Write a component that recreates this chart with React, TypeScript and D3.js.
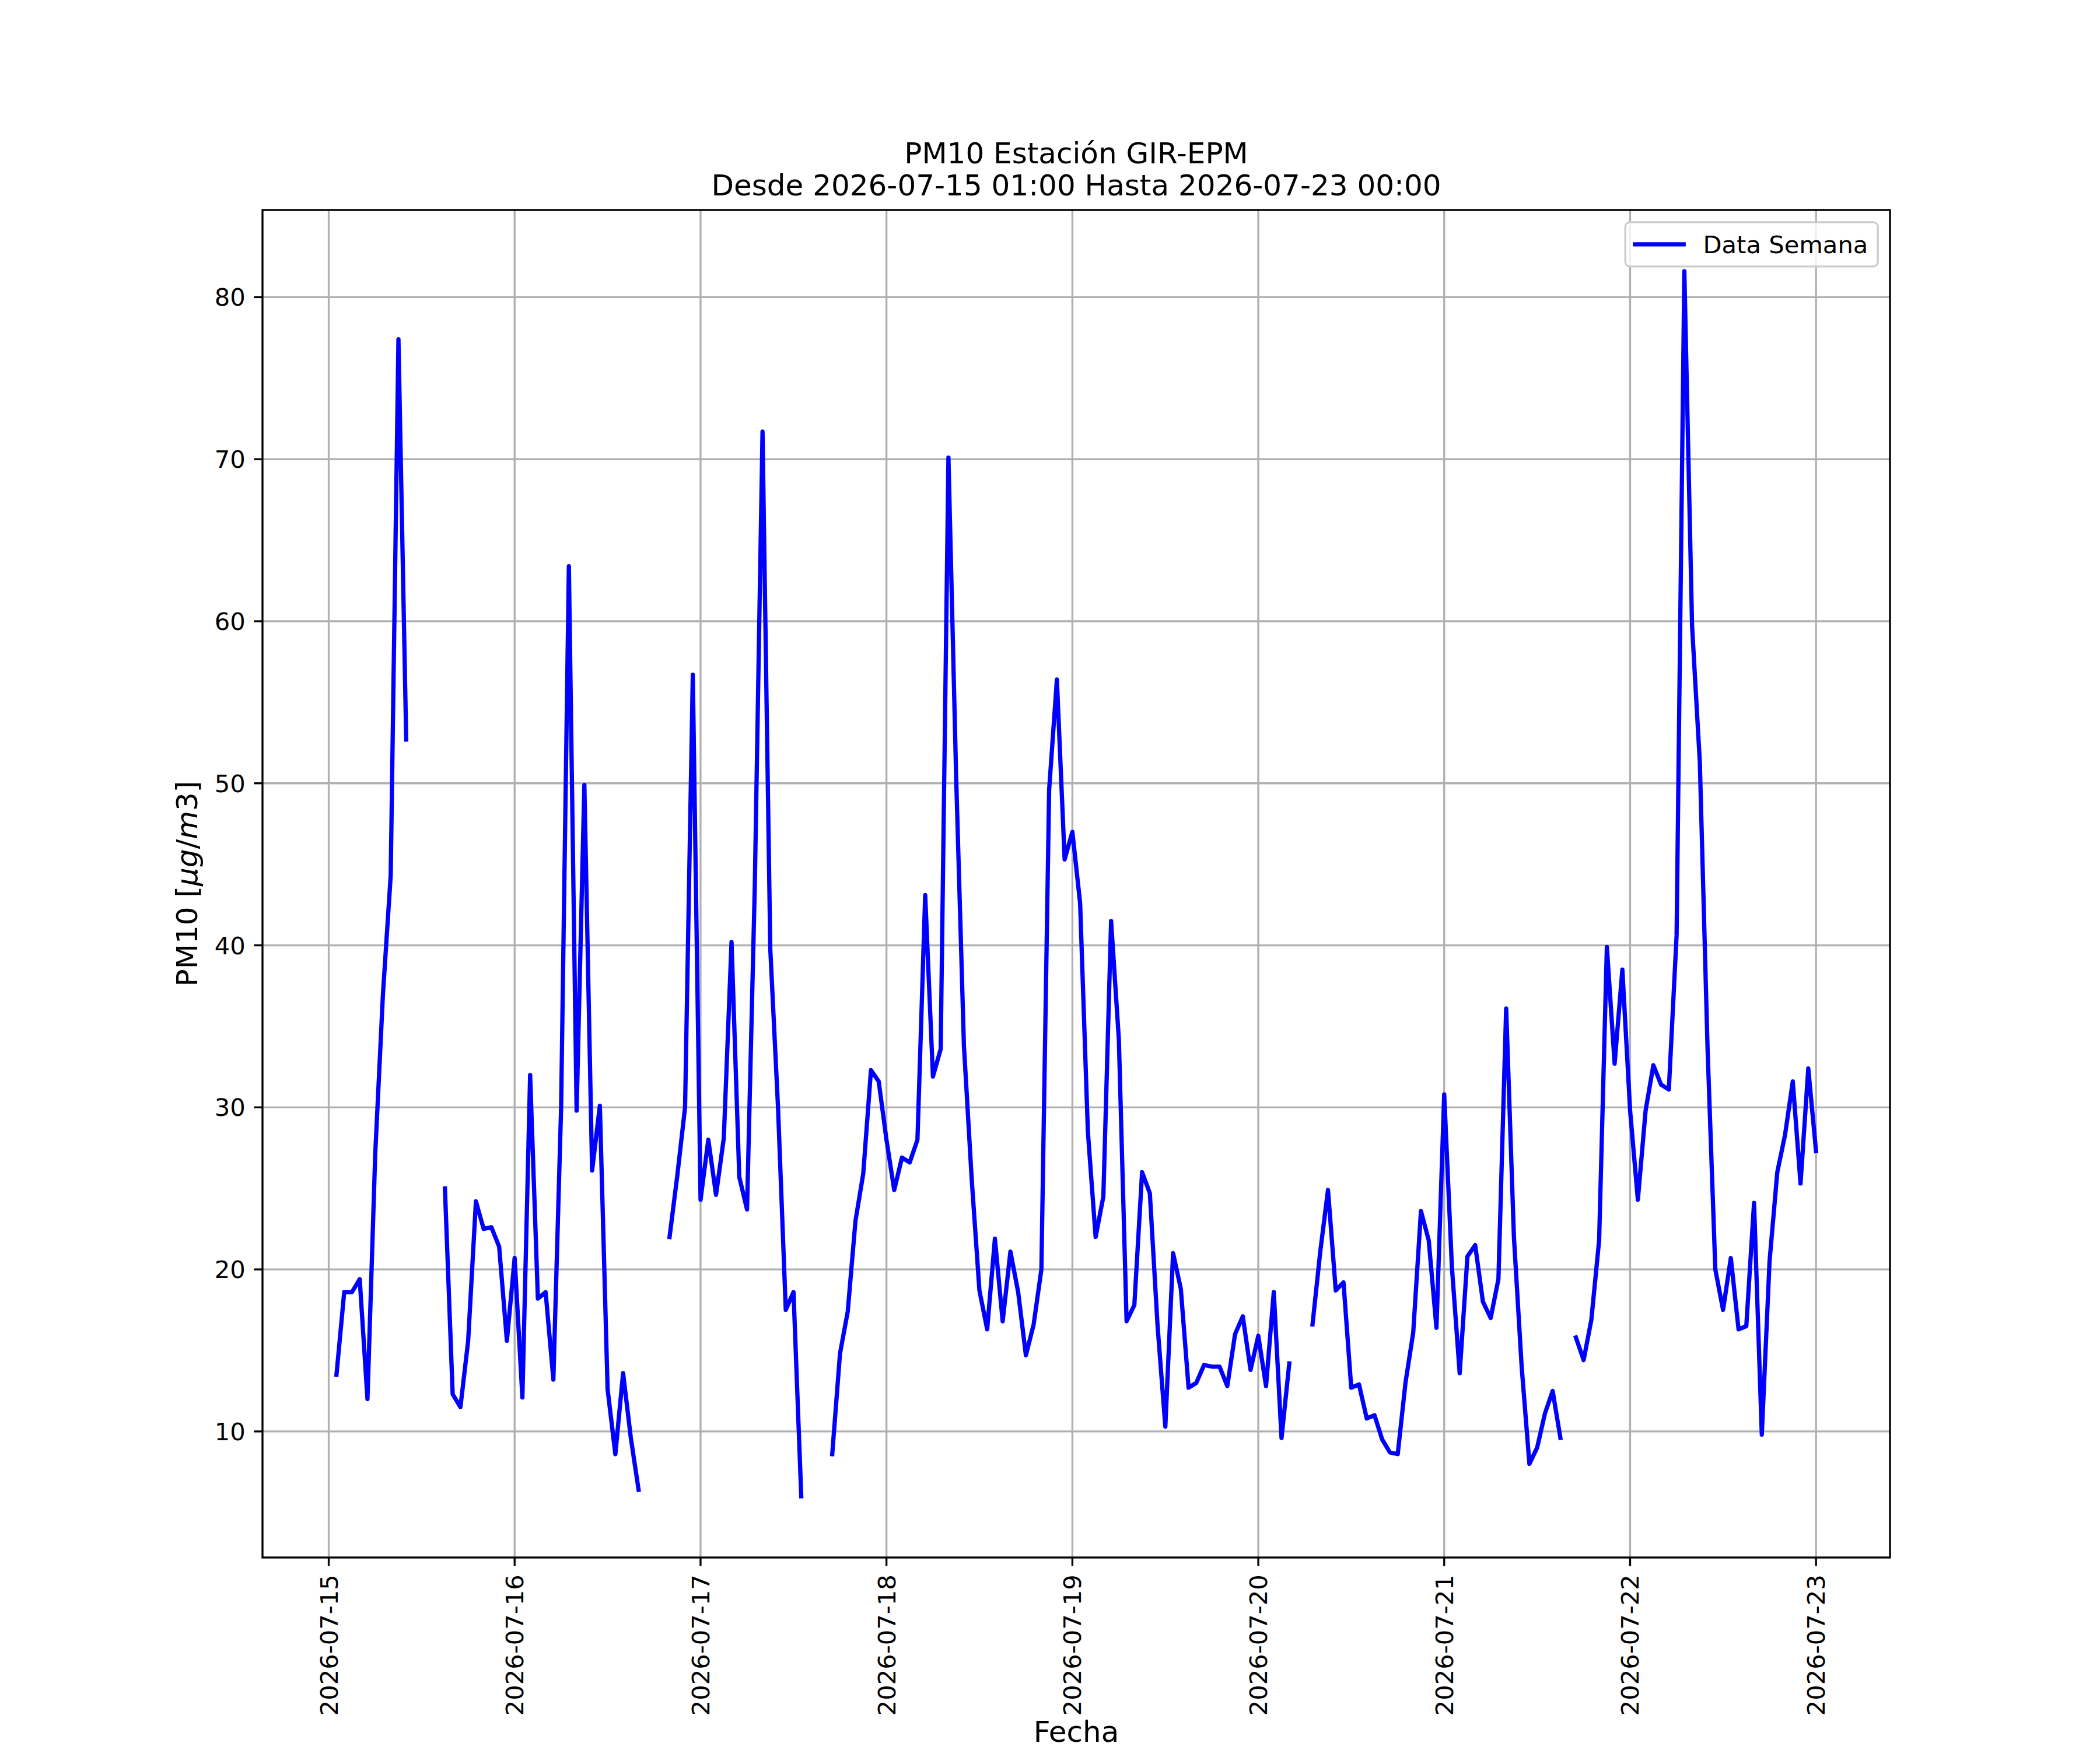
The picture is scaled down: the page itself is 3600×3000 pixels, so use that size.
import React from "react";
import * as d3 from "d3";

// Hourly PM10 values, one array per day (01:00 .. next day 00:00); null = missing
const day0715: (number | null)[] = [13.5, 18.6, 18.6, 19.4, 12.0, 27.1, 37.0, 44.3, 77.4, 52.7, null, null, null, null, 25.0, 12.3, 11.5, 15.6, 24.2, 22.5, 22.6, 21.4, 15.6, 20.7];
const day0716: (number | null)[] = [12.1, 32.0, 18.2, 18.6, 13.2, 30.0, 63.4, 29.8, 49.9, 26.1, 30.1, 12.6, 8.6, 13.6, 9.6, 6.4, null, null, null, 22.0, 25.8, 30.0, 56.7, 24.3];
const day0717: (number | null)[] = [28.0, 24.6, 28.1, 40.2, 25.7, 23.7, 43.6, 71.7, 39.8, 30.0, 17.5, 18.6, 6.0, null, null, null, 8.6, 14.8, 17.4, 23.0, 25.9, 32.3, 31.6, 28.0];
const day0718: (number | null)[] = [24.9, 26.9, 26.6, 28.0, 43.1, 31.9, 33.6, 70.1, 50.3, 33.8, 25.6, 18.7, 16.3, 21.9, 16.8, 21.1, 18.6, 14.7, 16.6, 20.0, 49.6, 56.4, 45.3, 47.0];
const day0719: (number | null)[] = [42.6, 28.5, 22.0, 24.5, 41.5, 34.2, 16.8, 17.8, 26.0, 24.7, 16.5, 10.3, 21.0, 18.8, 12.7, 13.0, 14.1, 14.0, 14.0, 12.8, 16.0, 17.1, 13.8, 15.9];
const day0720: (number | null)[] = [12.8, 18.6, 9.6, 14.2, null, null, 16.6, 21.1, 24.9, 18.7, 19.2, 12.7, 12.9, 10.8, 11.0, 9.5, 8.7, 8.6, 13.0, 16.1, 23.6, 21.8, 16.4, 30.8];
const day0721: (number | null)[] = [20.1, 13.6, 20.8, 21.5, 18.0, 17.0, 19.4, 36.1, 22.0, 14.0, 8.0, 9.0, 11.1, 12.5, 9.6, null, 15.8, 14.4, 16.9, 21.8, 39.9, 32.7, 38.5, 29.8];
const day0722: (number | null)[] = [24.3, 29.8, 32.6, 31.4, 31.1, 40.6, 81.6, 59.7, 51.3, 33.6, 20.0, 17.5, 20.7, 16.3, 16.5, 24.1, 9.8, 20.5, 26.0, 28.3, 31.6, 25.3, 32.4, 27.3];

const startTime = Date.UTC(2026, 6, 15, 1, 0); // 2026-07-15 01:00
const yTickValues = [10, 20, 30, 40, 50, 60, 70, 80];
const titleLines = ["PM10 Estación GIR-EPM", "Desde 2026-07-15 01:00 Hasta 2026-07-23 00:00"];
const xLabel = "Fecha";
const legendLabel = "Data Semana";

const W = 3600;
const H = 3000;
const L = 450, R = 3240, T = 360, B = 2670;
const FONT = "DejaVu Sans";
const tickFs = 41.67;
const labelFs = 50;

type Pt = { t: Date; v: number | null };

export default function App() {
  const values = [...day0715, ...day0716, ...day0717, ...day0718, ...day0719, ...day0720, ...day0721, ...day0722];
  const data: Pt[] = values.map((v, i) => ({ t: new Date(startTime + i * 3600 * 1000), v }));

  const t0 = data[0].t.getTime();
  const t1 = data[data.length - 1].t.getTime();
  const dt = t1 - t0;
  const x = d3.scaleUtc().domain([new Date(t0 - 0.05 * dt), new Date(t1 + 0.05 * dt)]).range([L, R]);

  const vals = values.filter((v): v is number => v != null);
  const vmin = d3.min(vals)!;
  const vmax = d3.max(vals)!;
  const vr = vmax - vmin;
  const y = d3.scaleLinear().domain([vmin - 0.05 * vr, vmax + 0.05 * vr]).range([B, T]);

  const line = d3
    .line<Pt>()
    .defined((d) => d.v != null)
    .x((d) => x(d.t))
    .y((d) => y(d.v as number));

  const xTicks = d3.utcDay.range(new Date(Date.UTC(2026, 6, 15)), new Date(Date.UTC(2026, 6, 23, 1)));
  const fmt = d3.utcFormat("%Y-%m-%d");

  const tickLen = 14.6;
  const pad = 14.6;
  const gridW = 3.33;

  // legend geometry
  const legR = R - 20.8;
  const legT = T + 20.8;
  const legW = 433;
  const legH = 76;
  const legL = legR - legW;
  const legCy = legT + legH / 2;

  return (
    <svg
      width={W}
      height={H}
      viewBox={`0 0 ${W} ${H}`}
      style={{ position: "absolute", left: 0, top: 0, background: "#fff", fontFamily: FONT }}
    >
      <rect x={0} y={0} width={W} height={H} fill="#fff" />
      {/* grid */}
      <g stroke="#b0b0b0" strokeWidth={gridW}>
        {xTicks.map((d, i) => (
          <line key={"gx" + i} x1={x(d)} x2={x(d)} y1={T} y2={B} />
        ))}
        {yTickValues.map((v, i) => (
          <line key={"gy" + i} x1={L} x2={R} y1={y(v)} y2={y(v)} />
        ))}
      </g>
      {/* data line */}
      <path
        d={line(data) || ""}
        fill="none"
        stroke="#0000ff"
        strokeWidth={7.3}
        strokeLinejoin="round"
        strokeLinecap="square"
      />
      {/* spines */}
      <rect x={L} y={T} width={R - L} height={B - T} fill="none" stroke="#000" strokeWidth={3.33} />
      {/* x ticks */}
      <g>
        {xTicks.map((d, i) => {
          const px = x(d);
          return (
            <g key={"xt" + i}>
              <line x1={px} x2={px} y1={B} y2={B + tickLen} stroke="#000" strokeWidth={3.33} />
              <text
                transform={`translate(${px + 15},${B + tickLen + pad}) rotate(-90)`}
                textAnchor="end"
                fontSize={tickFs}
                fill="#000"
              >
                {fmt(d)}
              </text>
            </g>
          );
        })}
      </g>
      {/* y ticks */}
      <g>
        {yTickValues.map((v, i) => {
          const py = y(v);
          return (
            <g key={"yt" + i}>
              <line x1={L - tickLen} x2={L} y1={py} y2={py} stroke="#000" strokeWidth={3.33} />
              <text x={L - tickLen - pad} y={py + 15} textAnchor="end" fontSize={tickFs} fill="#000">
                {v}
              </text>
            </g>
          );
        })}
      </g>
      {/* title */}
      <text x={(L + R) / 2} y={280} textAnchor="middle" fontSize={labelFs} fill="#000">
        {titleLines[0]}
      </text>
      <text x={(L + R) / 2} y={335} textAnchor="middle" fontSize={labelFs} fill="#000">
        {titleLines[1]}
      </text>
      {/* x label */}
      <text x={(L + R) / 2} y={2986} textAnchor="middle" fontSize={labelFs} fill="#000">
        {xLabel}
      </text>
      {/* y label */}
      <text
        transform={`translate(338,${(T + B) / 2}) rotate(-90)`}
        textAnchor="middle"
        fontSize={labelFs}
        fill="#000"
      >
        PM10 [<tspan fontStyle="italic">μg</tspan>/<tspan fontStyle="italic">m</tspan>3]
      </text>
      {/* legend */}
      <rect
        x={legL}
        y={legT}
        width={legW}
        height={legH}
        rx={8}
        ry={8}
        fill="#fff"
        fillOpacity={0.8}
        stroke="#cccccc"
        strokeWidth={3.33}
      />
      <line x1={legL + 16.7} x2={legL + 100} y1={legCy} y2={legCy} stroke="#0000ff" strokeWidth={7.3} strokeLinecap="square" />
      <text x={legL + 133.3} y={legCy + 15} fontSize={tickFs} fill="#000">
        {legendLabel}
      </text>
    </svg>
  );
}
